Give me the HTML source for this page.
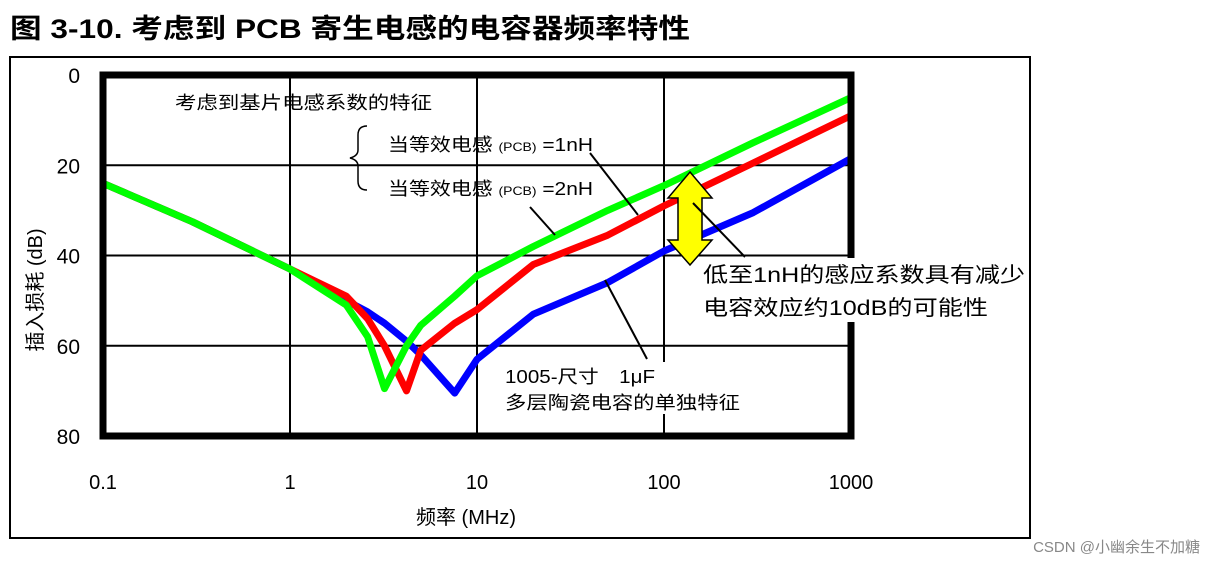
<!DOCTYPE html>
<html><head><meta charset="utf-8"><style>
body{margin:0;background:#fff;width:1216px;height:564px;overflow:hidden}
svg text{font-family:"Liberation Sans","Noto Sans CJK SC",sans-serif}
</style></head><body>
<svg width="1216" height="564">
<text x="10" y="38" font-size="27" font-weight="bold" textLength="680" lengthAdjust="spacingAndGlyphs">图 3-10. 考虑到 PCB 寄生电感的电容器频率特性</text>
<rect x="10" y="57" width="1020" height="481" fill="none" stroke="#000" stroke-width="2"/>
<g id="grid"></g>
<g id="series"></g>
<rect x="103" y="75" width="748" height="361" fill="none" stroke="#000" stroke-width="7"/>
<g id="ticks"></g>
<text x="466" y="524" font-size="20" text-anchor="middle">频率 (MHz)</text>
<text transform="translate(42,290) rotate(-90)" font-size="20" text-anchor="middle">插入损耗 (dB)</text>
<text x="175" y="109" font-size="18" textLength="257" lengthAdjust="spacingAndGlyphs">考虑到基片电感系数的特征</text>
<path d="M367,126 Q358,126 358,135 L358,150 Q358,156 350,158 Q358,160 358,166 L358,181 Q358,190 367,190" fill="none" stroke="#000" stroke-width="1.5"/>
<text x="388" y="151" font-size="18" textLength="205" lengthAdjust="spacingAndGlyphs">当等效电感 <tspan font-size="12">(PCB)</tspan> =1nH</text>
<text x="388" y="195" font-size="18" textLength="205" lengthAdjust="spacingAndGlyphs">当等效电感 <tspan font-size="12">(PCB)</tspan> =2nH</text>
<line x1="590" y1="153" x2="638" y2="215" stroke="#000" stroke-width="2"/>
<line x1="530" y1="207" x2="555" y2="235" stroke="#000" stroke-width="2"/>
<line x1="605" y1="280" x2="647" y2="359" stroke="#000" stroke-width="2"/>
<path d="M690,172 L712,198 L702,198 L702,240 L712,240 L690,265 L668,240 L678,240 L678,198 L668,198 Z" fill="#ffff00" stroke="#000" stroke-width="1.5"/>
<line x1="693" y1="203" x2="745" y2="257" stroke="#000" stroke-width="2"/>
<rect x="700" y="258" width="326" height="64" fill="#fff"/>
<text x="703" y="282" font-size="21" textLength="322" lengthAdjust="spacingAndGlyphs">低至1nH的感应系数具有减少</text>
<text x="703" y="315" font-size="21" textLength="285" lengthAdjust="spacingAndGlyphs">电容效应约10dB的可能性</text>
<rect x="503" y="362" width="240" height="52" fill="#fff"/>
<text x="505" y="383" font-size="18" textLength="150" lengthAdjust="spacingAndGlyphs">1005-尺寸　1μF</text>
<text x="505" y="409" font-size="18" textLength="235" lengthAdjust="spacingAndGlyphs">多层陶瓷电容的单独特征</text>
<text x="1200" y="552" font-size="15" fill="#888" text-anchor="end">CSDN @小幽余生不加糖</text>
</svg>
<script>
const freqs=[0.1,0.3,1,2,2.6,3.2,4.2,5,7.6,10,20,50,100,300,1000];
const green=[24,32.5,43,51,58,69.5,60,55.5,49,44.5,38,30,24.5,15,5];
const red=[24,32.5,43,49,54,60,70,61,55,52,42,35.5,29,19.5,9];
const blue=[24,32.5,43,50,52.5,55,59,62,70.5,63,53,46,39,30.5,18.5];
const xTicks=[0.1,1,10,100,1000];
const xTickLabels=["0.1","1","10","100","1000"];
const yTicks=[0,20,40,60,80];
const NS="http://www.w3.org/2000/svg";
function xs(f){return 103+(Math.log10(f)+1)*187;}
function ys(v){return 75+v*(361/80);}
const grid=document.getElementById('grid'),ticks=document.getElementById('ticks'),ser=document.getElementById('series');
xTicks.forEach((t,i)=>{
 const l=document.createElementNS(NS,'line');
 l.setAttribute('x1',xs(t));l.setAttribute('x2',xs(t));l.setAttribute('y1',75);l.setAttribute('y2',436);
 l.setAttribute('stroke','#000');l.setAttribute('stroke-width','2');
 
 
 grid.appendChild(l);
 const tx=document.createElementNS(NS,'text');
 tx.setAttribute('x',xs(t));tx.setAttribute('y',489);tx.setAttribute('font-size','20');tx.setAttribute('text-anchor','middle');
 tx.textContent=xTickLabels[i];
 
 
 ticks.appendChild(tx);
});
yTicks.forEach(t=>{
 const l=document.createElementNS(NS,'line');
 l.setAttribute('x1',103);l.setAttribute('x2',851);l.setAttribute('y1',ys(t));l.setAttribute('y2',ys(t));
 l.setAttribute('stroke','#000');l.setAttribute('stroke-width','2');
 
 
 grid.appendChild(l);
 const tx=document.createElementNS(NS,'text');
 tx.setAttribute('x',80);tx.setAttribute('y',ys(t)+8);tx.setAttribute('font-size','21');tx.setAttribute('text-anchor','end');
 tx.textContent=t;
 
 
 ticks.appendChild(tx);
});
[[blue,'#0000ff','series-blue-1uf'],[red,'#ff0000','series-red-2nh'],[green,'#00ff00','series-green-1nh']].forEach(([d,c,n])=>{
 const p=document.createElementNS(NS,'polyline');
 p.setAttribute('points',d.map((v,i)=>xs(freqs[i]).toFixed(1)+','+ys(v).toFixed(1)).join(' '));
 p.setAttribute('fill','none');p.setAttribute('stroke',c);p.setAttribute('stroke-width','7');p.setAttribute('stroke-linejoin','round');
 
 
 ser.appendChild(p);
});
</script>
</body></html>
